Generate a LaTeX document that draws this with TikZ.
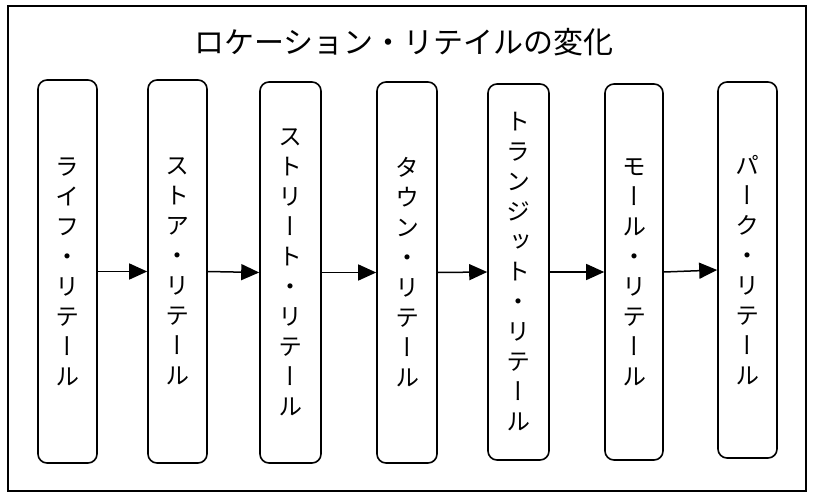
\documentclass[tikz,border=0pt]{standalone}
\usepackage{fontspec}
\usetikzlibrary{arrows.meta}
\newfontfamily\cjk{Noto Sans CJK JP}
\newfontfamily\cjkv[RawFeature={+vert}]{Noto Sans CJK JP}
\tikzset{
  stage/.style={draw=black, line width=1.6pt, rounded corners=9pt, fill=white,
    inner sep=0pt, align=center, font=\cjkv\fontsize{24}{30}\selectfont},
  flow/.style={line width=1.5pt, -{Triangle[length=18pt,width=16pt]}, shorten >=0pt},
  frame/.style={draw=black, line width=1.8pt}
}
\begin{document}
\begin{tikzpicture}[x=1pt,y=-1pt]
\useasboundingbox (0,0) rectangle (814,498);
\node[frame, minimum width=798pt, minimum height=485pt, inner sep=0pt] (outer) at (407,248.5) {};
\node[font=\cjk\fontsize{30}{33}\selectfont] (title) at (404,42) {ロケーション・リテイルの変化};
\node[stage, minimum width=59pt, minimum height=383pt] (b1) at (67.5,271.5) {ラ\\イ\\フ\\・\\リ\\テ\\ー\\ル};
\node[stage, minimum width=59pt, minimum height=383pt] (b2) at (177.5,271.5) {ス\\ト\\ア\\・\\リ\\テ\\ー\\ル};
\node[stage, minimum width=61pt, minimum height=381pt] (b3) at (290.5,272.5) {ス\\ト\\リ\\ー\\ト\\・\\リ\\テ\\ー\\ル};
\node[stage, minimum width=60pt, minimum height=381pt] (b4) at (407,272.5) {タ\\ウ\\ン\\・\\リ\\テ\\ー\\ル};
\node[stage, minimum width=61pt, minimum height=376pt] (b5) at (518.5,272) {ト\\ラ\\ン\\ジ\\ッ\\ト\\・\\リ\\テ\\ー\\ル};
\node[stage, minimum width=58pt, minimum height=376pt] (b6) at (634,272) {モ\\ー\\ル\\・\\リ\\テ\\ー\\ル};
\node[stage, minimum width=59pt, minimum height=376pt] (b7) at (747.5,270) {パ\\ー\\ク\\・\\リ\\テ\\ー\\ル};
\draw[flow] (b1.east) -- (b2.west);
\draw[flow] (b2.east) -- (b3.west);
\draw[flow] (b3.east) -- (b4.west);
\draw[flow] (b4.east) -- (b5.west);
\draw[flow] (b5.east) -- (b6.west);
\draw[flow] (b6.east) -- (b7.west);
\end{tikzpicture}
\end{document}
